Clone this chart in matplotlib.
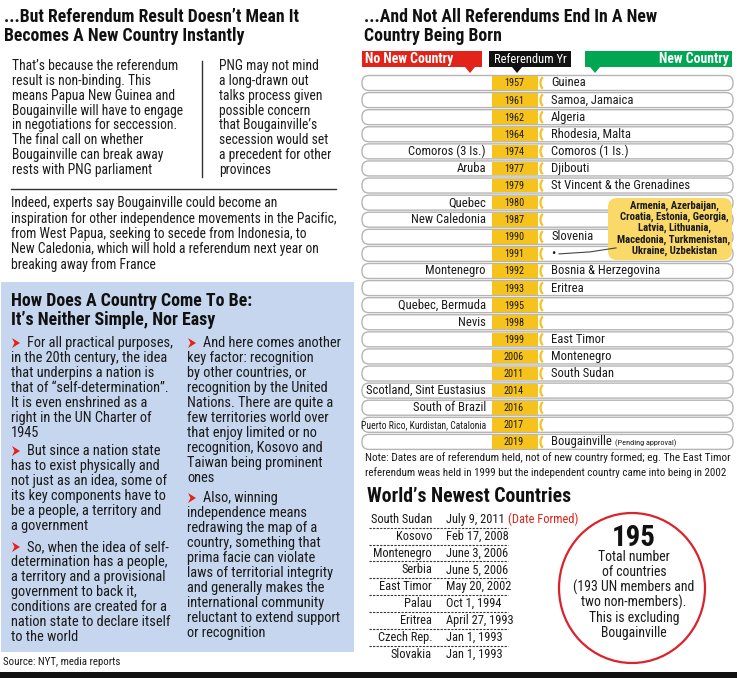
import matplotlib
matplotlib.use("Agg")
import matplotlib.pyplot as plt
from matplotlib import font_manager as fm
from matplotlib.patches import FancyBboxPatch, Rectangle, Polygon, Ellipse, Arc

# ---------------- data ----------------
years = [1957, 1961, 1962, 1964, 1974, 1977, 1979, 1980, 1987, 1990, 1991,
         1992, 1993, 1995, 1998, 1999, 2006, 2011, 2014, 2016, 2017, 2019]
no_new_country = ['', '', '', '', 'Comoros (3 Is.)', 'Aruba', '', 'Quebec',
                  'New Caledonia', '', '', 'Montenegro', '', 'Quebec, Bermuda',
                  'Nevis', '', '', '', 'Scotland, Sint Eustasius', 'South of Brazil',
                  'Puerto Rico, Kurdistan, Catalonia', '']
new_country = ['Guinea', 'Samoa, Jamaica', 'Algeria', 'Rhodesia, Malta',
               'Comoros (1 Is.)', 'Djibouti', 'St Vincent & the Grenadines', '', '',
               'Slovenia', '\u2022', 'Bosnia & Herzegovina', 'Eritrea', '', '',
               'East Timor', 'Montenegro', 'South Sudan', '', '', '', 'Bougainville']
soviet_1991 = ['Armenia, Azerbaijan,', 'Croatia, Estonia, Georgia,',
               'Latvia, Lithuania,', 'Macedonia, Turkmenistan,', 'Ukraine, Uzbekistan']

newest_countries = ['South Sudan', 'Kosovo', 'Montenegro', 'Serbia', 'East Timor',
                    'Palau', 'Eritrea', 'Czech Rep.', 'Slovakia']
dates_formed = ['July 9, 2011', 'Feb 17, 2008', 'June 3, 2006', 'June 5, 2006',
                'May 20, 2002', 'Oct 1, 1994', 'April 27, 1993', 'Jan 1, 1993',
                'Jan 1, 1993']
total_countries = 195

# ---------------- fonts ----------------
ttf = fm.fontManager.ttflist
names = {f.name for f in ttf}
STRETCH = 'normal'
CONDENSED = True
if 'Liberation Sans Narrow' in names:
    MAIN = 'Liberation Sans Narrow'
elif 'Roboto Condensed' in names:
    MAIN = 'Roboto Condensed'
elif 'Open Sans Condensed' in names:
    MAIN = 'Open Sans Condensed'
elif any(f.name == 'DejaVu Sans' and 'condensed' in str(f.stretch) for f in ttf):
    MAIN = 'DejaVu Sans'
    STRETCH = 'condensed'
else:
    MAIN = 'Liberation Sans'
    CONDENSED = False
FAM = [MAIN, 'DejaVu Sans']

RED = '#e2231a'
GREEN = '#00a651'
YELLOW = '#f6c21c'
BLUE = '#c6d6ee'
INK = '#1a1a1a'

fig = plt.figure(figsize=(7.39, 6.78), dpi=100)
ax = fig.add_axes([0, 0, 1, 1])
ax.set_xlim(0, 739)
ax.set_ylim(678, 0)
ax.axis('off')
renderer = fig.canvas.get_renderer()


def _width(s, px, bold):
    t = ax.text(0, 0, s, fontsize=px * 0.72, family=FAM, fontstretch=STRETCH,
                fontweight='bold' if bold else 'normal')
    w = t.get_window_extent(renderer).width
    t.remove()
    return w


FS = 1.03 if CONDENSED else min(1.0, 173.0 / _width('in negotiations for seccession.', 13, False))


def T(x, y, s, px, bold=False, color=INK, ha='left', va='center', fit=None, **kw):
    t = ax.text(x, y, s, fontsize=px * 0.72 * FS, family=FAM, fontstretch=STRETCH,
                fontweight='bold' if bold else 'normal', color=color,
                ha=ha, va=va, **kw)
    if fit is not None:
        w = t.get_window_extent(renderer).width
        t.set_fontsize(t.get_fontsize() * fit / w)
    return t


def lines(x, y0, dy, seq, px, **kw):
    for i, s in enumerate(seq):
        T(x, y0 + i * dy, s, px, **kw)


def title2(x, y1, y2, s1, s2, w1, px=19):
    t = T(x, y1, s1, px, bold=True, color='#111', fit=w1)
    ax.text(x, y2, s2, fontsize=t.get_fontsize(), family=FAM, fontstretch=STRETCH,
            fontweight='bold', color='#111', ha='left', va='center')


# ---------------- left top ----------------
title2(4, 17, 36, '...But Referendum Result Doesn\u2019t Mean It',
       'Becomes A New Country Instantly', 294)

lines(12, 66, 14.86, ['That\u2019s because the referendum', 'result is non-binding. This',
                      'means Papua New Guinea and', 'Bougainville will have to engage',
                      'in negotiations for seccession.', 'The final call on whether',
                      'Bougainville can break away', 'rests with PNG parliament'], 13.2)
ax.plot([202, 202], [61, 177], color='#333', lw=1)
lines(219, 66, 14.86, ['PNG may not mind', 'a long-drawn out', 'talks process given',
                       'possible concern', 'that Bougainville\u2019s',
                       'secession would set', 'a precedent for other', 'provinces'], 13.2)
ax.plot([11, 336], [189, 189], color='#333', lw=1)
lines(11, 203, 15.5, ['Indeed, experts say Bougainville could become an',
                      'inspiration for other independence movements in the Pacific,',
                      'from West Papua, seeking to secede from Indonesia, to',
                      'New Caledonia, which will hold a referendum next year on',
                      'breaking away from France'], 13.2)

# ---------------- blue box ----------------
ax.add_patch(Rectangle((1, 282), 353, 370, facecolor=BLUE, edgecolor='none'))
title2(11, 301, 320, 'How Does A Country Come To Be:', 'It\u2019s Neither Simple, Nor Easy', 240)

left_bullets = [
    (343, ['For all practical purposes,', 'in the 20th century, the idea',
           'that underpins a nation is', 'that of \u201cself-determination\u201d.',
           'It is even enshrined as a', 'right in the UN Charter of', '1945']),
    (451, ['But since a nation state', 'has to exist physically and',
           'not just as an idea, some of', 'its key components have to',
           'be a people, a territory and', 'a government']),
    (547, ['So, when the idea of self-', 'determination has a people,',
           'a territory and a provisional', 'government to back it,',
           'conditions are created for a', 'nation state to declare itself',
           'to the world']),
]
right_bullets = [
    (343, ['And here comes another', 'key factor: recognition', 'by other countries, or',
           'recognition by the United', 'Nations. There are quite a',
           'few territories world over', 'that enjoy limited or no',
           'recognition, Kosovo and', 'Taiwan being prominent', 'ones']),
    (498, ['Also, winning', 'independence means', 'redrawing the map of a',
           'country, something that', 'prima facie can violate',
           'laws of territorial integrity', 'and generally makes the',
           'international community', 'reluctant to extend support',
           'or recognition']),
]
for x0, blocks in ((11, left_bullets), (187, right_bullets)):
    for y0, seq in blocks:
        ax.add_patch(Polygon([(x0 + 1, y0 - 5), (x0 + 9, y0), (x0 + 1, y0 + 5),
                              (x0 + 3.5, y0)], closed=True, facecolor=RED,
                             edgecolor='none'))
        T(x0 + 16, y0, seq[0], 14)
        lines(x0, y0 + 15, 15.0, seq[1:], 14)

T(3, 662, 'Source: NYT, media reports', 10.5, fit=117)
ax.add_patch(Rectangle((0, 672), 737, 6, facecolor='#111', edgecolor='none'))

# ---------------- right: referendums ----------------
title2(364, 17, 36, '...And Not All Referendums End In A New', 'Country Being Born', 292)

hdr_top, hdr_h = 51, 16
for (x0, x1, col, px_) in ((362, 482, RED, 470), (489, 571, '#111', 517), (585, 732, GREEN, 595)):
    ax.add_patch(Rectangle((x0, hdr_top), x1 - x0, hdr_h, facecolor=col, edgecolor='none'))
    ax.add_patch(Polygon([(px_ - 5, hdr_top + hdr_h), (px_ + 5, hdr_top + hdr_h),
                          (px_, hdr_top + hdr_h + 6)], closed=True, facecolor=col,
                         edgecolor='none'))
T(365, 59.5, 'No New Country', 14, bold=True, color='white', fit=88)
T(530, 59.5, 'Referendum Yr', 11.7, color='white', ha='center', fit=72)
T(729, 59.5, 'New Country', 14, bold=True, color='white', ha='right', fit=70)

row_y0, row_dy = 83, 17.09
for i, (yr, lft, rgt) in enumerate(zip(years, no_new_country, new_country)):
    y = row_y0 + i * row_dy
    ax.add_patch(FancyBboxPatch((362, y - 7.5), 371, 15,
                                boxstyle='round,pad=0,rounding_size=7',
                                facecolor='white', edgecolor='#b5b5b5', lw=1.0))
    ax.add_patch(Rectangle((492, y - 6.8), 46, 13.6, facecolor=YELLOW, edgecolor='none'))
    ax.add_patch(Arc((545, y), 9, 13, theta1=110, theta2=250, color=YELLOW, lw=1.6))
    T(514, y + 0.5, str(yr), 9.8, ha='center')
    if lft:
        if len(lft) > 28:
            T(486, y, lft, 10, ha='right', fit=124)
        else:
            T(486, y, lft, 12.2, ha='right')
    if rgt:
        t = T(551, y, rgt, 12.2)
        if yr == years[-1]:
            bb = t.get_window_extent(renderer)
            T(bb.x1 + 3, y + 1, '(Pending approval)', 8.5, fit=62)

# callout bubble for 1991
yi = years.index(1991)
yb = row_y0 + yi * row_dy
ax.add_patch(FancyBboxPatch((608, 198), 124, 62, boxstyle='round,pad=0,rounding_size=9',
                            facecolor='#fad968', edgecolor='none'))
for k, s in enumerate(soviet_1991):
    T(674, 205.5 + k * 11.3, s, 10.5, bold=True, ha='center')
ax.plot([559, 590, 616], [yb, yb - 2, yb - 6], color='#444', lw=0.8)

# note
T(365, 458, 'Note: Dates are of referendum held, not of new country formed; eg. The East Timor',
  11, fit=364)
T(365, 473, 'referendum weas held in 1999 but the independent country came into being in 2002',
  11, fit=362)

# ---------------- newest countries ----------------
T(367, 497, 'World\u2019s Newest Countries', 19, bold=True, color='#111', fit=203)
n_y0, n_dy = 519.3, 16.85
for i, (c, d) in enumerate(zip(newest_countries, dates_formed)):
    y = n_y0 + i * n_dy
    T(432, y, c, 12, ha='right')
    t = T(446, y, d, 12)
    if i == 0:
        bb = t.get_window_extent(renderer)
        T(bb.x1 + 3, y, '(Date Formed)', 12, color=RED)
    if i < len(newest_countries) - 1:
        ax.plot([369, 508], [y + n_dy / 2, y + n_dy / 2], color='#333', lw=0.8,
                ls=(0, (2, 1.2)))

ax.add_patch(Ellipse((632, 588), 146, 150, facecolor='white', edgecolor='#d9232d', lw=1.6))
T(634, 538, str(total_countries), 28, bold=True, color='#111', ha='center')
lines(634, 557.3, 15.1, ['Total number', 'of countries', '(193 UN members and',
                         'two non-members).', 'This is excluding', 'Bougainville'], 13.3,
      ha='center')

fig.savefig('out.png', dpi=100)
